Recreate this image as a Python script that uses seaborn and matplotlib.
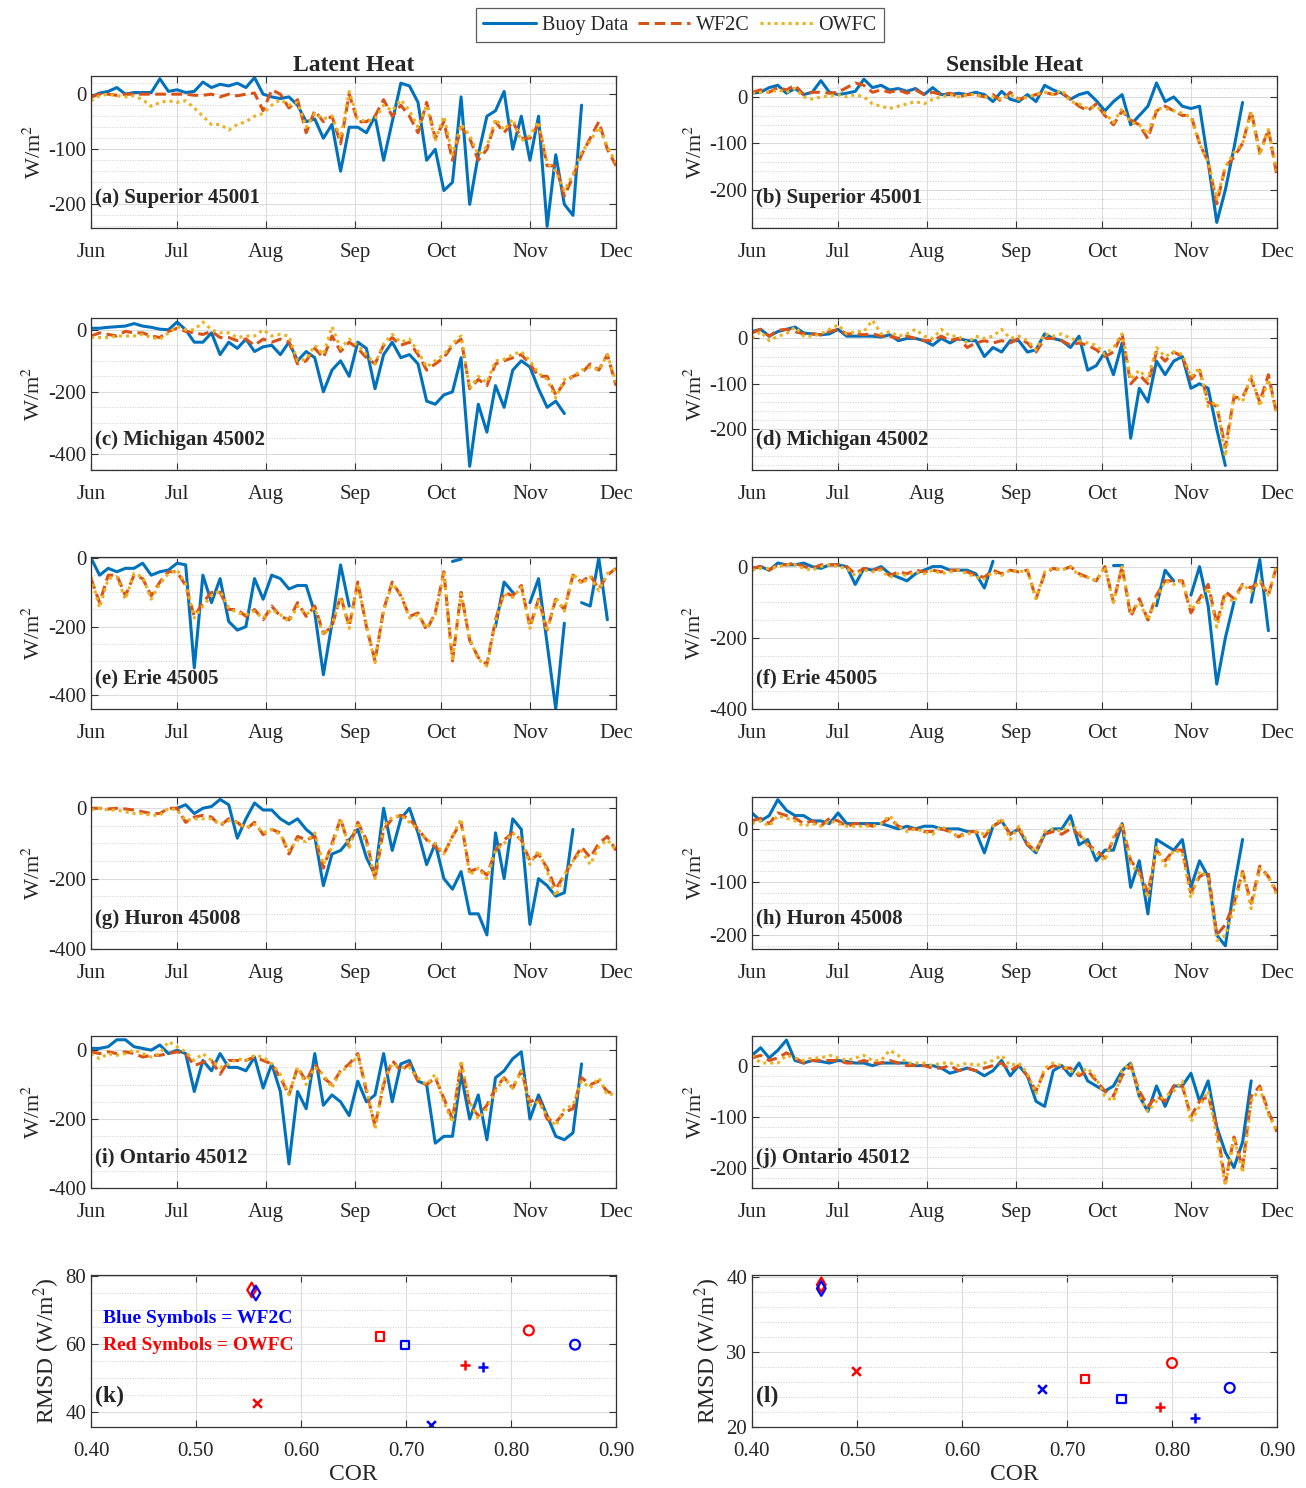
import numpy as np
import pandas as pd
import matplotlib
matplotlib.use('Agg')
import matplotlib.pyplot as plt
from matplotlib.ticker import MultipleLocator, FormatStrFormatter
from matplotlib.lines import Line2D
import seaborn as sns

nan = np.nan

# Fechas: una muestra cada 3 dias, 1 jun -> 1 dic
fechas = pd.Timestamp('2018-06-01') + pd.to_timedelta(list(range(0, 184, 3)), unit='D')
meses = pd.to_datetime(['2018-06-01', '2018-07-01', '2018-08-01', '2018-09-01',
                        '2018-10-01', '2018-11-01', '2018-12-01'])
etiquetas_meses = ['Jun', 'Jul', 'Aug', 'Sep', 'Oct', 'Nov', 'Dec']

# ---------------------------
# (a) Superior 45001 - Latent
# ---------------------------
a_buoy = [-5, 2, 5, 12, 0, 3, 3, 3, 28, 5,
          8, 3, 5, 22, 12, 18, 15, 20, 12, 30,
          0, -5, -8, -5, -20, -50, -45, -80, -55, -140,
          -60, -60, -70, -40, -120, -50, 20, 15, -15, -120,
          -100, -175, -160, -5, -200, -110, -40, -30, 5, -100,
          -40, -120, -40, -240, -110, -200, -220, -20, nan, nan,
          nan, nan]
a_wf2c = [-5, 0, 0, -2, 0, 0, 0, 0, 0, 0,
          0, 0, -2, -2, 0, -5, 0, -3, 0, 2,
          -30, 8, 0, -25, -10, -70, -30, -50, -40, -90,
          0, -50, -50, -40, -10, -40, -20, -40, -70, -15,
          -80, -50, -120, -60, -80, -120, -100, -50, -70, -50,
          -80, -80, -55, -130, -130, -185, -150, -110, -80, -50,
          -100, -130]
a_owfc = [-12, -3, 0, -3, -5, -3, -10, -22, -15, -12,
          -15, -12, -25, -40, -55, -55, -65, -55, -50, -40,
          -35, -20, -10, -20, -15, -60, -35, -45, -40, -80,
          5, -45, -50, -45, -20, -30, -10, -30, -60, -20,
          -85, -40, -110, -55, -75, -110, -95, -45, -65, -45,
          -85, -75, -50, -125, -140, -175, -145, -105, -85, -60,
          -95, -125]

# (b) Superior 45001 - Sensible
b_buoy = [8, 10, 20, 25, 8, 18, 5, 10, 35, 10,
          5, 8, 12, 38, 20, 25, 15, 18, 12, 18,
          5, 20, 5, 5, 8, 5, 10, 5, -10, 12,
          -5, -10, 5, -10, 25, 15, 8, -5, 5, 10,
          -8, -30, -10, 5, -60, -40, -20, 30, -10, 0,
          -20, -25, -20, -140, -270, -200, -110, -12, nan, nan,
          nan, nan]
b_wf2c = [10, 15, 10, 20, 15, 25, 5, 10, 10, 8,
          10, 20, 30, 25, 10, 15, 10, 15, 8, 15,
          5, 10, 5, 8, 0, 5, 5, 0, 5, -10,
          10, -5, 0, 5, 10, 5, 10, -5, -20, -30,
          -15, -40, -60, -30, -50, -60, -90, -30, -20, -30,
          -40, -40, -100, -140, -230, -150, -130, -100, -30, -120,
          -70, -170]
b_owfc = [8, 10, 10, 15, 10, 18, 0, -5, 0, 2,
          5, 0, 5, 0, -15, -20, -25, -20, -15, -10,
          -15, -5, 0, 5, 0, 5, 5, 0, 0, -5,
          5, -5, 0, 5, 10, 5, 15, -10, -15, -25,
          -20, -35, -55, -25, -55, -60, -80, -25, -25, -30,
          -35, -45, -100, -140, -220, -150, -120, -100, -35, -125,
          -70, -160]

# (c) Michigan 45002 - Latent
c_buoy = [5, 5, 8, 10, 12, 20, 12, 8, 2, 0,
          25, 0, -40, -40, -10, -80, -40, -60, -30, -70,
          -55, -50, -80, -40, -100, -70, -90, -200, -130, -100,
          -150, -40, -60, -190, -80, -40, -90, -80, -110, -230,
          -240, -210, -200, -90, -440, -240, -330, -180, -250, -130,
          -100, -120, -190, -250, -230, -270, nan, nan, nan, nan,
          nan, nan]
c_wf2c = [-20, -10, -15, -20, -5, -10, -10, -20, -25, -5,
          5, -5, -10, -15, -5, -25, -25, -35, -30, -50,
          -30, -40, -30, -40, -110, -100, -60, -90, -20, -70,
          -40, -60, -90, -110, -50, -25, -50, -40, -80, -130,
          -110, -90, -50, -30, -190, -160, -180, -110, -100, -90,
          -80, -110, -150, -150, -210, -170, -150, -140, -110, -130,
          -80, -180]
c_owfc = [-25, -25, -25, -20, -20, -20, -15, -25, -30, -10,
          10, 0, 0, 25, 0, -10, -10, -25, -20, -20,
          0, -20, -15, -20, -100, -95, -50, -80, 10, -60,
          -30, -50, -80, -110, -45, -15, -40, -30, -70, -120,
          -100, -80, -45, -20, -190, -150, -170, -100, -95, -80,
          -70, -100, -140, -160, -220, -160, -150, -130, -120, -130,
          -80, -170]

# (d) Michigan 45002 - Sensible
d_buoy = [15, 20, 5, 15, 20, 25, 12, 10, 8, 10,
          20, 5, 5, 5, 5, 3, 8, -5, 0, 0,
          -5, -15, 0, -10, 0, -5, -5, -40, -20, -30,
          -5, -5, -30, -25, 10, 0, -5, -20, 5, -70,
          -60, -30, -80, -10, -220, -110, -140, -50, -80, -50,
          -40, -110, -100, -110, -200, -280, nan, nan, nan, nan,
          nan, nan]
d_wf2c = [12, 20, 5, 18, 20, 15, 10, 10, 8, 15,
          20, 10, 10, 8, 10, 5, 5, 0, 5, 0,
          -5, -5, 5, -5, 0, -20, -10, -5, -10, -5,
          -10, 0, -10, -30, 0, 0, -5, -15, -10, -15,
          -25, -40, -30, 10, -100, -80, -100, -30, -50, -30,
          -40, -90, -70, -140, -150, -240, -130, -130, -90, -140,
          -80, -170]
d_owfc = [0, 15, -5, 5, 10, 25, 5, 5, 10, 20,
          30, 10, 15, 15, 40, 10, 15, 5, 10, 20,
          5, 0, 20, 5, 5, -10, 5, 0, 5, 20,
          0, 5, -5, -25, 10, 5, 10, 0, -5, -10,
          -15, -35, -20, 10, -90, -70, -90, -20, -40, -30,
          -35, -85, -65, -150, -140, -260, -125, -140, -80, -150,
          -90, -165]

# (e) Erie 45005 - Latent
e_buoy = [0, -50, -30, -40, -30, -30, -15, -50, -40, -35,
          -15, -20, -320, -50, -130, -60, -185, -210, -200, -60,
          -120, -50, -60, -90, -80, -80, -160, -340, -190, -20,
          -140, nan, nan, nan, nan, nan, nan, nan, nan, nan,
          nan, nan, -10, -3, nan, nan, nan, -200, -70, -100,
          nan, -130, -60, -250, -440, -190, nan, -130, -140, 0,
          -180, nan]
e_wf2c = [-60, -130, -50, -50, -110, -50, -60, -110, -70, -40,
          -40, -80, -170, -130, -100, -100, -150, -150, -170, -150,
          -180, -140, -170, -180, -130, -170, -140, -220, -200, -110,
          -200, -70, -200, -300, -150, -70, -110, -170, -160, -210,
          -160, -40, -300, -100, -240, -290, -310, -180, -100, -110,
          -80, -200, -120, -210, -120, -150, -50, -70, -50, -90,
          -50, -30]
e_owfc = [-55, -145, -60, -55, -120, -45, -55, -120, -75, -45,
          -35, -75, -175, -140, -110, -95, -145, -160, -165, -155,
          -175, -150, -165, -185, -140, -165, -145, -225, -195, -115,
          -205, -75, -195, -305, -155, -75, -105, -175, -165, -205,
          -165, -45, -300, -105, -235, -295, -315, -185, -105, -115,
          -85, -205, -125, -215, -115, -155, -45, -75, -55, -95,
          -45, -30]

# (f) Erie 45005 - Sensible
f_buoy = [-5, 0, -10, 10, 5, 5, 10, 0, -5, 5,
          5, 0, -50, -5, -10, 0, -20, -30, -40, -20,
          -10, 0, 0, -10, -10, -10, -20, -60, 15, nan,
          nan, nan, nan, nan, nan, nan, nan, nan, nan, nan,
          nan, nan, 5, 5, nan, nan, nan, -110, -10, -40,
          nan, -80, 0, -110, -330, -200, -100, nan, -100, 20,
          -180, nan]
f_wf2c = [-5, 0, -10, 5, 5, 10, 0, -5, 5, 5,
          5, 0, -20, -5, -10, -5, -25, -15, -20, -10,
          -15, -10, -15, -10, -10, -15, -25, -30, -10, -20,
          -10, -15, -10, -90, -20, -5, -10, 0, -20, -30,
          -40, 0, -100, 0, -140, -90, -150, -80, -40, -40,
          -40, -130, -90, -50, -160, -70, -90, -50, -60, -40,
          -80, 5]
f_owfc = [-10, -5, -5, 0, 5, 5, -5, -10, 0, 5,
          0, -5, -25, -10, -15, -10, -30, -20, -25, -15,
          -20, -10, -20, -15, -10, -20, -30, -35, -15, -25,
          -10, -15, -10, -90, -15, -5, -10, 0, -25, -30,
          -40, 0, -100, 0, -130, -100, -150, -90, -40, -50,
          -40, -120, -100, -60, -170, -80, -100, -50, -70, -40,
          -80, 5]

# (g) Huron 45008 - Latent
g_buoy = [nan, nan, nan, nan, nan, nan, nan, nan, nan, nan,
          0, 10, -15, 0, 5, 25, 10, -85, -30, 15,
          -5, -5, -30, -45, -30, -60, -80, -220, -130, -120,
          -90, -60, -140, -190, 0, -120, -30, 0, -70, -160,
          -100, -200, -230, -180, -300, -300, -360, -70, -200, -30,
          -60, -330, -200, -220, -250, -240, -60, nan, nan, nan,
          nan, nan]
g_wf2c = [0, 0, -2, 0, -2, -5, -10, -15, -15, 0,
          0, -40, -25, -20, -25, -50, -30, -40, -60, -40,
          -75, -60, -70, -130, -80, -90, -80, -170, -100, -30,
          -110, -40, -90, -200, -60, -30, -20, -30, -60, -90,
          -110, -130, -80, -40, -180, -170, -190, -120, -90, -70,
          -90, -150, -130, -170, -230, -190, -150, -110, -140, -100,
          -80, -120]
g_owfc = [-5, 0, -5, -5, -10, -15, -15, -20, -20, 0,
          -5, -35, -30, -30, -30, -45, -35, -40, -55, -45,
          -70, -60, -75, -120, -90, -95, -70, -160, -110, -30,
          -110, -40, -100, -200, -50, -25, -20, -40, -60, -90,
          -100, -130, -80, -30, -190, -170, -200, -120, -100, -70,
          -90, -160, -120, -180, -250, -190, -150, -120, -160, -110,
          -90, -120]

# (h) Huron 45008 - Sensible
h_buoy = [30, 15, 25, 55, 35, 25, 25, 15, 15, 10,
          30, 10, 10, 10, 10, 10, 5, 0, 5, 0,
          5, 5, 0, 0, 0, -5, -5, -45, 5, 15,
          -10, 0, -30, -45, -10, 0, 0, 25, -30, -20,
          -60, -40, -40, 10, -110, -60, -160, -20, -30, -40,
          -20, -110, -60, -90, -200, -220, -110, -20, nan, nan,
          nan, nan]
h_wf2c = [15, 20, 10, 30, 25, 20, 10, 15, 5, 20,
          15, 5, 10, 10, 5, 10, 20, 5, 0, 0,
          -5, -5, 0, -5, -15, -5, -5, -15, 5, 15,
          -10, 0, -30, -40, -10, -5, -10, 0, -10, -30,
          -40, -55, -20, 10, -60, -80, -120, -40, -60, -40,
          -40, -120, -90, -80, -200, -180, -140, -80, -140, -70,
          -90, -120]
h_owfc = [10, 15, 5, 25, 20, 15, 5, 10, 5, 15,
          10, 5, 5, 5, 5, 10, 25, 5, -5, 0,
          -5, -10, 5, -5, -15, -10, -5, -10, 5, 20,
          -20, 5, -25, -45, -5, 0, -5, 10, -5, -30,
          -45, -60, -15, 10, -65, -85, -130, -35, -70, -40,
          -45, -130, -80, -90, -210, -200, -150, -80, -150, -75,
          -90, -125]

# (i) Ontario 45012 - Latent
i_buoy = [5, 5, 10, 30, 30, 10, 5, 0, 15, -10,
          0, -10, -120, -30, -60, -10, -50, -50, -60, -20,
          -110, -40, -120, -330, -120, -170, -10, -160, -130, -150,
          -190, -90, -150, -130, -10, -150, -40, -30, -90, -100,
          -270, -250, -250, -70, -200, -130, -260, -80, -60, -25,
          -5, -200, -130, -190, -250, -260, -240, -40, nan, nan,
          nan, nan]
i_wf2c = [-5, -10, -5, -10, -5, -10, -20, -15, -15, -10,
          -5, -10, -45, -35, -30, -70, -30, -30, -30, -20,
          -30, -40, -80, -130, -50, -90, -40, -80, -100, -60,
          -40, -10, -120, -220, -100, -30, -60, -40, -90, -100,
          -80, -140, -200, -40, -160, -190, -160, -110, -80, -110,
          -60, -150, -140, -200, -210, -180, -170, -80, -100, -90,
          -120, -130]
i_owfc = [-10, -25, -10, -15, -10, 0, -10, -20, -10, 25,
          10, -5, -30, -10, -30, -50, -40, -25, -30, -15,
          -20, -40, -70, -130, -50, -100, -50, -70, -110, -60,
          -50, -15, -110, -230, -90, -40, -50, -50, -80, -100,
          -70, -150, -210, -30, -150, -200, -170, -120, -80, -110,
          -60, -160, -150, -190, -220, -170, -160, -90, -110, -80,
          -130, -125]

# (j) Ontario 45012 - Sensible
j_buoy = [20, 35, 15, 30, 50, 10, 5, 10, 8, 5,
          10, 8, 5, 5, 0, 5, 5, 5, 5, 0,
          0, 0, -5, -15, -10, -5, -10, -20, -10, 10,
          -20, 0, -20, -70, -80, -10, 0, -20, 5, -30,
          -40, -50, -40, -10, 5, -60, -90, -40, -80, -40,
          -40, -15, -70, -30, -120, -170, -200, -150, -30, nan,
          nan, nan]
j_wf2c = [15, 20, 10, 15, 25, 15, 5, 10, 10, 10,
          10, 5, 5, 10, 5, 5, 10, 5, 0, 0,
          0, -5, -5, 0, -10, -5, -10, -5, 0, 5,
          -10, 0, -20, -50, -10, 0, -5, -5, -20, -10,
          -30, -50, -60, -20, 0, -50, -80, -60, -70, -40,
          -40, -100, -70, -60, -120, -230, -140, -200, -60, -40,
          -90, -130]
j_owfc = [20, 5, 5, 5, 20, 15, 10, 15, 15, 20,
          15, 10, 15, 20, 10, 10, 30, 20, 5, 5,
          5, 0, 5, 5, 0, 5, 0, 5, 10, 20,
          0, 5, -15, -55, -5, 5, 0, -10, -15, -5,
          -25, -60, -70, -10, 5, -60, -90, -70, -60, -50,
          -30, -110, -80, -50, -140, -235, -140, -210, -70, -45,
          -95, -130]

# ---------------------------
# Estadisticos (k) latente, (l) sensible
# ---------------------------
marcadores = ['o', 's', 'd', 'x', '+']
k_wf2c_cor = [0.861, 0.699, 0.557, 0.724, 0.773]
k_wf2c_rmsd = [59.8, 59.8, 75.0, 36.3, 53.1]
k_owfc_cor = [0.817, 0.675, 0.553, 0.558, 0.756]
k_owfc_rmsd = [64.0, 62.2, 75.9, 42.8, 53.7]
l_wf2c_cor = [0.855, 0.752, 0.466, 0.676, 0.822]
l_wf2c_rmsd = [25.2, 23.7, 38.4, 25.1, 21.2]
l_owfc_cor = [0.800, 0.717, 0.466, 0.499, 0.789]
l_owfc_rmsd = [28.5, 26.4, 38.9, 27.5, 22.6]

# ---------------------------
# Estilo
# ---------------------------
sns.set_theme(style='ticks')
plt.rcParams['font.family'] = ['Liberation Serif', 'DejaVu Serif']
plt.rcParams['mathtext.fontset'] = 'stix'
plt.rcParams['axes.unicode_minus'] = False

c_buoy_col = '#0072BD'
c_wf2c_col = '#D95319'
c_owfc_col = '#EDB120'

W, H = 1306, 1488
fig = plt.figure(figsize=(W / 100, H / 100), dpi=100)

izq = [91, 752]
ancho = 525
alto = 152
tops = [76, 318, 557, 797, 1036, 1275]


def crear_ax(col, fila):
    l = izq[col] / W
    b = 1 - (tops[fila] + alto) / H
    return fig.add_axes([l, b, ancho / W, alto / H])


def estilo_ax(ax):
    ax.tick_params(which='both', direction='in', top=True, right=True,
                   labelsize=15, width=0.8, color='#333333')
    ax.tick_params(which='major', length=5)
    ax.tick_params(which='minor', length=0)
    for s in ax.spines.values():
        s.set_color('#333333')
        s.set_linewidth(0.9)
    ax.grid(True, which='major', color='#dcdcdc', lw=0.8)
    ax.yaxis.grid(True, which='minor', color='#cfcfcf', lw=0.7, ls=':')
    ax.set_axisbelow(True)


def linea(ax, valores, color, ls, lw):
    s = pd.Series(valores, dtype=float)
    seg = s.isna().cumsum()
    df = pd.DataFrame({'fecha': fechas, 'valor': s.values, 'seg': seg.values}).dropna()
    sns.lineplot(data=df, x='fecha', y='valor', units='seg', estimator=None,
                 color=color, linestyle=ls, linewidth=lw, ax=ax, legend=False)


paneles = [
    (0, 0, a_buoy, a_wf2c, a_owfc, (-243, 33), 100, '(a) Superior 45001'),
    (1, 0, b_buoy, b_wf2c, b_owfc, (-282, 45), 100, '(b) Superior 45001'),
    (0, 1, c_buoy, c_wf2c, c_owfc, (-452, 38), 200, '(c) Michigan 45002'),
    (1, 1, d_buoy, d_wf2c, d_owfc, (-290, 45), 100, '(d) Michigan 45002'),
    (0, 2, e_buoy, e_wf2c, e_owfc, (-440, 3), 200, '(e) Erie 45005'),
    (1, 2, f_buoy, f_wf2c, f_owfc, (-400, 27), 200, '(f) Erie 45005'),
    (0, 3, g_buoy, g_wf2c, g_owfc, (-400, 32), 200, '(g) Huron 45008'),
    (1, 3, h_buoy, h_wf2c, h_owfc, (-226, 60), 100, '(h) Huron 45008'),
    (0, 4, i_buoy, i_wf2c, i_owfc, (-400, 41), 200, '(i) Ontario 45012'),
    (1, 4, j_buoy, j_wf2c, j_owfc, (-240, 58), 100, '(j) Ontario 45012'),
]

for col, fila, buoy, wf2c, owfc, ylim, paso, etiqueta in paneles:
    ax = crear_ax(col, fila)
    linea(ax, buoy, c_buoy_col, '-', 2.2)
    linea(ax, wf2c, c_wf2c_col, (0, (3.5, 1.8)), 2.2)
    linea(ax, owfc, c_owfc_col, (0, (1, 1.3)), 2.2)
    ax.set_xlim(meses[0], meses[-1])
    ax.set_xticks(meses)
    ax.set_xticklabels(etiquetas_meses)
    ax.set_ylim(*ylim)
    ax.yaxis.set_major_locator(MultipleLocator(paso))
    ax.yaxis.set_minor_locator(MultipleLocator(paso / (5 if paso == 100 else 4)))
    ax.set_xlabel('')
    ax.set_ylabel('W/m$^2$', fontsize=16, labelpad=2)
    estilo_ax(ax)
    ax.tick_params(axis='x', pad=11)
    ax.text(0.008, 0.2, etiqueta, transform=ax.transAxes, fontsize=15,
            fontweight='bold', ha='left', va='center')
    if fila == 0:
        ax.set_title('Latent Heat' if col == 0 else 'Sensible Heat',
                     fontsize=17, fontweight='bold', pad=2)

# ---------------------------
# Paneles de dispersion
# ---------------------------
scatter_cfg = [
    (0, k_wf2c_cor, k_wf2c_rmsd, k_owfc_cor, k_owfc_rmsd, (35.6, 80.3), 20, 5, '(k)'),
    (1, l_wf2c_cor, l_wf2c_rmsd, l_owfc_cor, l_owfc_rmsd, (20, 40.2), 10, 2, '(l)'),
]
tam = {'o': 50, 's': 35, 'd': 55, 'x': 40, '+': 50}
for col, wc, wr, oc, orr, ylim, paso, menor, etiqueta in scatter_cfg:
    ax = crear_ax(col, 5)
    for cors, rms, colr in [(oc, orr, 'red'), (wc, wr, 'blue')]:
        for x, y, m in zip(cors, rms, marcadores):
            if m in ('x', '+'):
                sns.scatterplot(x=[x], y=[y], marker=m, color=colr, s=tam[m],
                                linewidth=1.8, ax=ax, legend=False)
            else:
                sns.scatterplot(x=[x], y=[y], marker=m, color=colr, s=tam[m],
                                facecolor='none', edgecolor=colr,
                                linewidth=1.6, ax=ax, legend=False)
    ax.set_xlim(0.40, 0.90)
    ax.xaxis.set_major_locator(MultipleLocator(0.1))
    ax.xaxis.set_major_formatter(FormatStrFormatter('%.2f'))
    ax.set_ylim(*ylim)
    ax.yaxis.set_major_locator(MultipleLocator(paso))
    ax.yaxis.set_minor_locator(MultipleLocator(menor))
    ax.set_xlabel('COR', fontsize=17, labelpad=2)
    ax.set_ylabel('RMSD (W/m$^2$)', fontsize=17, labelpad=2)
    estilo_ax(ax)
    ax.tick_params(axis='both', labelsize=15)
    ax.tick_params(axis='x', pad=11)
    ax.text(0.008, 0.2, etiqueta, transform=ax.transAxes, fontsize=17,
            fontweight='bold', ha='left', va='center')
    if col == 0:
        ax.text(0.411, 67.5, 'Blue Symbols = WF2C', color='blue', fontsize=14,
                fontweight='bold', ha='left', va='center')
        ax.text(0.411, 59.6, 'Red Symbols = OWFC', color='red', fontsize=14,
                fontweight='bold', ha='left', va='center')

# ---------------------------
# Leyenda comun
# ---------------------------
handles = [Line2D([], [], color=c_buoy_col, lw=2.2, ls='-'),
           Line2D([], [], color=c_wf2c_col, lw=2.2, ls=(0, (3.5, 1.8))),
           Line2D([], [], color=c_owfc_col, lw=2.2, ls=(0, (1, 1.3)))]
leg = fig.legend(handles, ['Buoy Data', 'WF2C', 'OWFC'], loc='upper center',
                 bbox_to_anchor=(680 / W, 0.997), ncol=3, fontsize=14.5, frameon=True,
                 fancybox=False, edgecolor='#333333', handlelength=2.6,
                 columnspacing=0.5, handletextpad=0.3, borderpad=0.35,
                 borderaxespad=0.2)
leg.get_frame().set_linewidth(0.9)

fig.savefig('out.png', dpi=100)
